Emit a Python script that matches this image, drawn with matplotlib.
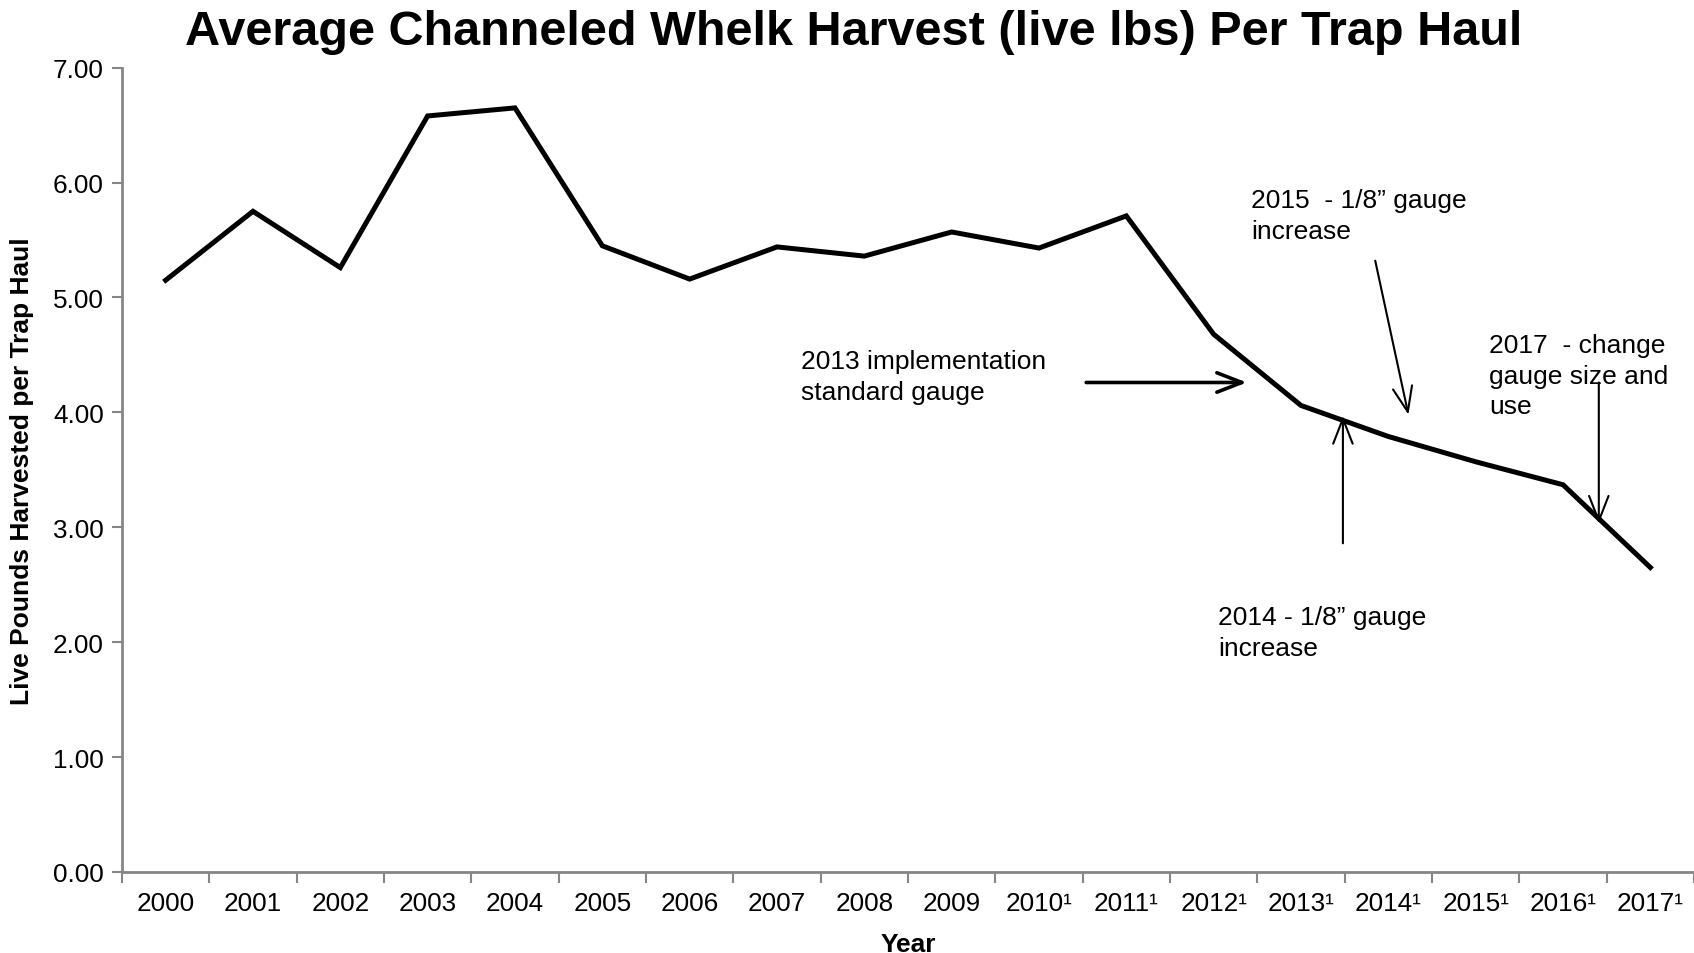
import matplotlib.pyplot as plt

years = ["2000", "2001", "2002", "2003", "2004", "2005", "2006", "2007", "2008",
         "2009", "2010¹", "2011¹", "2012¹", "2013¹", "2014¹", "2015¹", "2016¹", "2017¹"]
lbs_per_haul = [5.15, 5.75, 5.26, 6.58, 6.65, 5.45, 5.16, 5.44, 5.36,
                5.57, 5.43, 5.71, 4.68, 4.06, 3.79, 3.57, 3.37, 2.65]

# notes: text, text position (x, y top), arrow tail, arrow head, arrow width
notes = [
    ("2013 implementation\nstandard gauge", (7.28, 4.55), (10.54, 4.26), (12.38, 4.26), 2.6),
    ("2015  - 1/8\u201d gauge\nincrease", (12.43, 5.95), (13.85, 5.32), (14.23, 3.98), 1.5),
    ("2017  - change\ngauge size and\nuse", (15.15, 4.69), (16.41, 4.26), (16.41, 3.03), 1.5),
    ("2014 - 1/8\u201d gauge\nincrease", (12.05, 2.32), (13.48, 2.86), (13.48, 3.97), 1.5),
]

plt.rcParams['font.family'] = ['Liberation Sans', 'DejaVu Sans']
grey = '#868686'

fig = plt.figure(figsize=(16.94, 9.54), dpi=100)
ax = fig.add_axes([0.072, 0.085, 0.928, 0.843])

x = list(range(len(years)))
ax.plot(x, lbs_per_haul, color='black', linewidth=3.6, solid_joinstyle='miter')

ax.set_xlim(-0.5, len(years) - 0.5)
ax.set_ylim(0, 7)
ax.set_xticks(x)
ax.set_xticklabels(years, fontsize=18.8)
ax.set_xticks([i - 0.5 for i in range(len(years) + 1)], minor=True)
ax.tick_params(axis='x', which='major', length=0, pad=14)
ax.tick_params(axis='x', which='minor', length=8, width=1.5, color=grey, direction='out')
ax.set_yticks(range(8))
ax.set_yticklabels(["%.2f" % v for v in range(8)], fontsize=18.8)
ax.tick_params(axis='y', length=7, width=1.5, color=grey, direction='out', pad=6)

for s in ['top', 'right']:
    ax.spines[s].set_visible(False)
for s in ['left', 'bottom']:
    ax.spines[s].set_color(grey)
    ax.spines[s].set_linewidth(2)

ax.set_xlabel("Year", fontsize=19, fontweight='bold', labelpad=12)
ax.set_ylabel("Live Pounds Harvested per Trap Haul", fontsize=19, fontweight='bold', labelpad=14)

fig.text(0.504, 0.966, "Average Channeled Whelk Harvest (live lbs) Per Trap Haul",
         fontsize=35, fontweight='bold', ha='center', va='center')

for txt, pos, tail, head, lw in notes:
    ax.text(pos[0], pos[1], txt, fontsize=19, ha='left', va='top', linespacing=1.35)
    ax.annotate("", xy=head, xytext=tail,
                arrowprops=dict(arrowstyle='->,head_length=0.9,head_width=0.35',
                                color='black', lw=lw, mutation_scale=20,
                                shrinkA=0, shrinkB=0))

fig.savefig("out.png", dpi=100)
